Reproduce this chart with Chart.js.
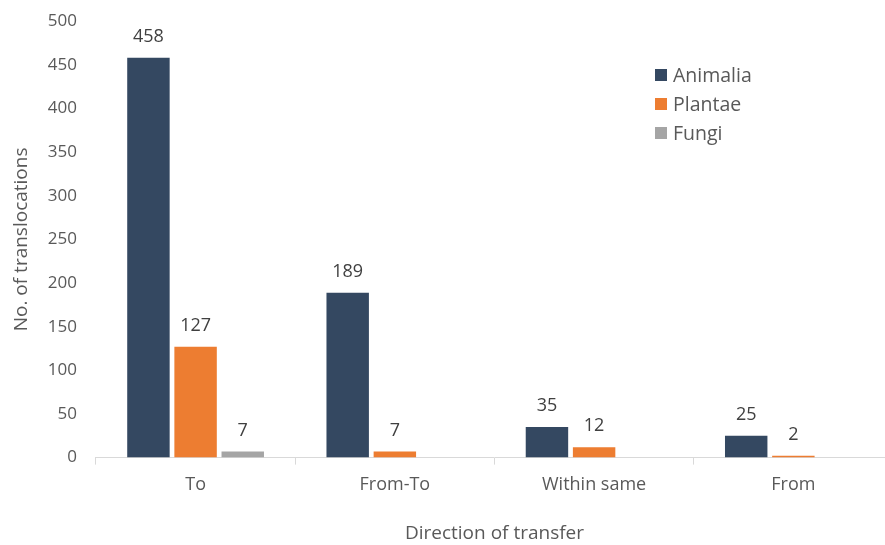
<!DOCTYPE html>
<html>
<head>
<meta charset="utf-8">
<script src="https://cdn.jsdelivr.net/npm/chart.js@4.4.0/dist/chart.umd.min.js"></script>
<style>
  html, body { margin: 0; padding: 0; background: #fff; overflow: hidden; }
  #wrap { width: 893px; height: 545px; }
</style>
</head>
<body>
<div id="wrap"><canvas id="chart"></canvas></div>
<script>
const categories = ['To', 'From-To', 'Within same', 'From'];
const animalia = [458, 189, 35, 25];
const plantae = [127, 7, 12, 2];
const fungi = [7, null, null, null];
const yTicks = [0, 50, 100, 150, 200, 250, 300, 350, 400, 450, 500];

const FONT = "'Open Sans', 'Liberation Sans', sans-serif";

// value labels above each bar
const barLabels = {
    id: 'barLabels',
    afterDatasetsDraw(chart) {
        const ctx = chart.ctx;
        ctx.save();
        ctx.font = '18px ' + FONT;
        ctx.fillStyle = '#404040';
        ctx.textAlign = 'center';
        ctx.textBaseline = 'middle';
        chart.data.datasets.forEach((ds, i) => {
            chart.getDatasetMeta(i).data.forEach((bar, j) => {
                const v = ds.data[j];
                if (v == null) return;
                ctx.fillText(v, bar.x, bar.y - 21);
            });
        });
        ctx.restore();
    }
};

// legend drawn inside the plot area, top right
const innerLegend = {
    id: 'innerLegend',
    afterDraw(chart) {
        const ctx = chart.ctx;
        const x = 655, y0 = 75, step = 29;
        ctx.save();
        ctx.font = '19.5px ' + FONT;
        ctx.textBaseline = 'middle';
        chart.data.datasets.forEach((ds, i) => {
            const y = y0 + i * step;
            ctx.fillStyle = ds.backgroundColor;
            ctx.fillRect(x, y - 6, 12, 12);
            ctx.fillStyle = '#595959';
            ctx.fillText(ds.label, x + 18, y + 1);
        });
        ctx.restore();
    }
};

new Chart(document.getElementById('chart'), {
    type: 'bar',
    data: {
        labels: categories,
        datasets: [
            { label: 'Animalia', data: animalia, backgroundColor: '#344861' },
            { label: 'Plantae', data: plantae, backgroundColor: '#ed7d31' },
            { label: 'Fungi', data: fungi, backgroundColor: '#a5a5a5' }
        ]
    },
    options: {
        responsive: true,
        maintainAspectRatio: false,
        animation: false,
        datasets: {
            bar: { categoryPercentage: 0.71, barPercentage: 0.9 }
        },
        layout: { padding: { top: 3, right: 0, left: 10, bottom: 0 } },
        plugins: {
            legend: { display: false },
            tooltip: { enabled: false }
        },
        scales: {
            x: {
                grid: {
                    offset: true,
                    drawOnChartArea: false,
                    tickLength: 7,
                    color: '#d9d9d9'
                },
                border: { color: '#d9d9d9', width: 1 },
                ticks: {
                    color: '#595959',
                    font: { family: FONT, size: 18 },
                    padding: 9
                },
                title: {
                    display: true,
                    text: 'Direction of transfer',
                    color: '#595959',
                    font: { family: FONT, size: 19 },
                    padding: { top: 18, bottom: 0 }
                }
            },
            y: {
                min: 0,
                max: 500,
                afterBuildTicks: axis => {
                    axis.ticks = yTicks.map(v => ({ value: v }));
                },
                grid: { display: false },
                border: { display: false },
                ticks: {
                    color: '#595959',
                    font: { family: FONT, size: 17 },
                    padding: 11
                },
                title: {
                    display: true,
                    text: 'No. of translocations',
                    color: '#595959',
                    font: { family: FONT, size: 19 },
                    padding: { top: 0, bottom: 4 }
                }
            }
        }
    },
    plugins: [barLabels, innerLegend]
});
</script>
</body>
</html>
